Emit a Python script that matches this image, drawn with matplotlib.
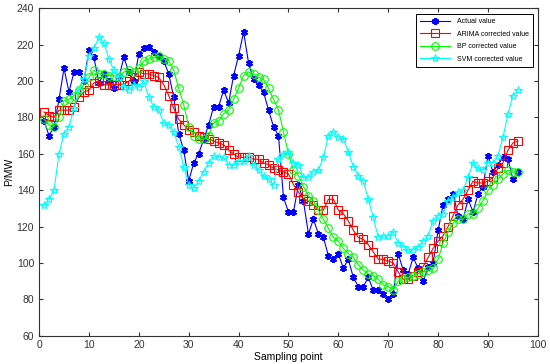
import numpy as np
from matplotlib import pyplot as plt

plt.rcParams['font.family'] = ['Liberation Sans', 'DejaVu Sans']

# sampling points 1..96
points = np.arange(1, 97)

actual = [178, 170, 175, 190, 207, 194, 205, 205, 200, 217,
          213, 199, 204, 200, 196, 202, 213, 205, 200, 215,
          218, 219, 216, 214, 211, 204, 191, 171, 162, 145,
          155, 160, 168, 176, 186, 186, 195, 188, 203, 214,
          227, 210, 201, 198, 194, 184, 175, 170, 136, 128,
          128, 143, 134, 116, 124, 116, 114, 104, 102, 105,
          97, 102, 92, 87, 87, 92, 85, 85, 83, 80,
          83, 105, 96, 94, 103, 97, 90, 98, 100, 118,
          132, 135, 138, 126, 124, 135, 128, 138, 142, 159,
          150, 154, 158, 157, 146, 150]

arima = [183, 181, 180, 184, 184, 184, 186, 191, 194, 195,
         199, 200, 198, 198, 198, 198, 198, 200, 202, 205,
         204, 204, 203, 202, 198, 192, 185, 179, 176, 173,
         172, 170, 169, 168, 167, 166, 165, 162, 160, 158,
         158, 158, 157, 157, 155, 154, 152, 151, 150, 149,
         143, 139, 135, 134, 132, 129, 129, 135, 135, 129,
         127, 123, 118, 114, 113, 110, 106, 102, 102, 101,
         100, 95, 91, 91, 93, 95, 98, 103, 108, 112,
         115, 120, 126, 132, 135, 140, 145, 144, 144, 145,
         147, 152, 155, 162, 166, 167]

bp = [179, 176, 175, 180, 189, 190, 192, 195, 198, 202,
      206, 204, 204, 203, 203, 202, 205, 206, 205, 207,
      211, 212, 213, 214, 212, 211, 206, 196, 187, 175,
      170, 168, 168, 170, 177, 178, 182, 184, 190, 196,
      203, 205, 204, 202, 201, 196, 190, 184, 172, 160,
      151, 148, 142, 137, 134, 129, 124, 119, 114, 112,
      108, 105, 103, 99, 96, 94, 93, 91, 88, 87,
      85, 90, 91, 92, 93, 94, 95, 96, 97, 102,
      111, 117, 122, 124, 124, 127, 127, 130, 134, 140,
      143, 146, 149, 151, 150, 150]

svm = [132, 135, 140, 160, 171, 175, 185, 195, 201, 214,
       218, 224, 221, 212, 206, 202, 197, 195, 198, 197,
       200, 191, 186, 184, 177, 176, 172, 164, 153, 143,
       141, 145, 150, 155, 159, 158, 158, 154, 154, 156,
       156, 159, 154, 151, 148, 146, 143, 157, 160, 161,
       155, 154, 147, 147, 150, 151, 158, 170, 172, 169,
       168, 161, 153, 148, 145, 135, 125, 114, 115, 115,
       117, 111, 109, 107, 107, 109, 112, 115, 123, 126,
       127, 134, 136, 139, 140, 147, 155, 152, 151, 155,
       155, 159, 169, 182, 192, 195]

labels = ['Actual value', 'ARIMA corrected value', 'BP corrected value', 'SVM corrected value']

fig = plt.figure(figsize=(5.5, 3.64), dpi=100)
ax = fig.add_axes([0.071, 0.078, 0.907, 0.899])

ax.plot(points, actual, '-', color='b', lw=0.8, marker=(6, 2, 0),
        ms=5, mew=1.4, label=labels[0])
ax.plot(points, arima, '-', color='r', lw=0.8, marker='s', ms=6,
        mfc='none', mew=0.8, label=labels[1])
ax.plot(points, bp, '-', color=(0, 1, 0), lw=0.8, marker='o', ms=5.5,
        mfc='none', mew=0.8, label=labels[2])
ax.plot(points, svm, '-', color=(0, 1, 1), lw=0.8, marker='*', ms=6,
        mfc='none', mew=0.8, label=labels[3])

ax.set_xlim(0, 100)
ax.set_ylim(60, 240)
ax.set_xticks(np.arange(0, 101, 10))
ax.set_yticks(np.arange(60, 241, 20))
ax.tick_params(direction='in', top=True, right=True, length=3,
               labelsize=7.5, colors='#333333')
for s in ax.spines.values():
    s.set_color('#333333')
    s.set_linewidth(0.8)
ax.set_xlabel('Sampling point', fontsize=7.5, labelpad=1)
ax.set_ylabel('P/MW', fontsize=7.5, labelpad=2)

leg = ax.legend(loc='upper right', fontsize=5, handlelength=4.3,
                handletextpad=1.0, fancybox=False, framealpha=1,
                edgecolor='black', borderpad=0.6, labelspacing=0.8,
                borderaxespad=0, bbox_to_anchor=(0.9906, 0.9826))
leg.get_frame().set_linewidth(0.7)

fig.savefig('out.png', dpi=100)
